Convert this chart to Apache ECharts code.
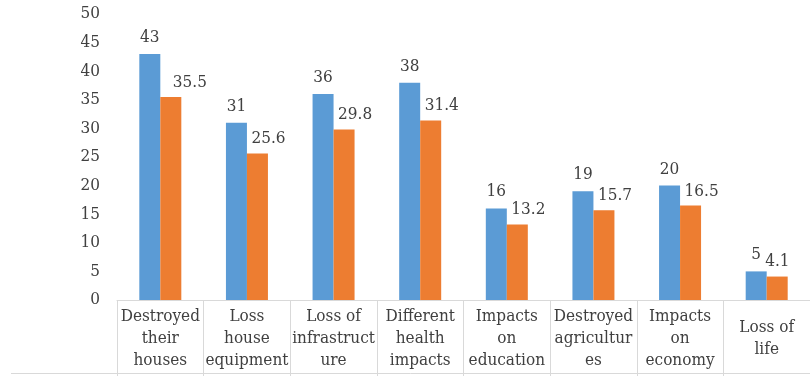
<!DOCTYPE html>
<html>
<head>
<meta charset="utf-8">
<script src="https://cdn.jsdelivr.net/npm/echarts@6/dist/echarts.min.js"></script>
<style>
  html, body { margin: 0; padding: 0; background: #fff; }
  #chart { width: 810px; height: 376px; }
</style>
</head>
<body>
<div id="chart"></div>
<script>
// Impact categories (line breaks as they wrap in each column)
const categories = [
  'Destroyed\ntheir\nhouses',
  'Loss\nhouse\nequipment',
  'Loss of\ninfrastruct\nure',
  'Different\nhealth\nimpacts',
  'Impacts\non\neducation',
  'Destroyed\nagricultur\nes',
  'Impacts\non\neconomy',
  'Loss of\nlife'
];
// Counts and percentages per category
const countValues = [43, 31, 36, 38, 16, 19, 20, 5];
const percentValues = [35.5, 25.6, 29.8, 31.4, 13.2, 15.7, 16.5, 4.1];
const yTicks = { min: 0, max: 50, interval: 5 };

const FONT = '"DejaVu Serif Condensed", "DejaVu Serif", serif';
const FS = 17;
const TEXT = '#404040';
const RULE = '#d9d9d9';

// small horizontal nudges for percentage labels that sit beside the count labels
const percentLabelNudge = { 0: 2, 7: -12 };

const percentData = percentValues.map((v, i) => {
  const item = { value: v };
  if (percentLabelNudge[i] !== undefined) {
    item.label = { offset: [percentLabelNudge[i], 0] };
  }
  return item;
});

const chart = echarts.init(document.getElementById('chart'), null, { renderer: 'canvas' });
chart.setOption({
  animation: false,
  backgroundColor: '#fff',
  textStyle: { fontFamily: FONT },
  grid: { left: 117, top: 14, width: 698, bottom: 76, containLabel: false },
  xAxis: {
    type: 'category',
    data: categories,
    boundaryGap: true,
    axisLine: { show: true, lineStyle: { color: RULE, width: 1 } },
    axisTick: { show: true, length: 76, lineStyle: { color: RULE, width: 1 } },
    axisLabel: {
      interval: 0,
      margin: 39,
      verticalAlign: 'middle',
      fontFamily: FONT,
      fontSize: FS,
      lineHeight: 22,
      color: TEXT
    },
    splitLine: { show: false }
  },
  yAxis: {
    type: 'value',
    min: yTicks.min,
    max: yTicks.max,
    interval: yTicks.interval,
    axisLine: { show: false },
    axisTick: { show: false },
    splitLine: { show: false },
    axisLabel: { margin: 17, fontFamily: FONT, fontSize: FS, color: TEXT }
  },
  series: [
    {
      type: 'bar',
      data: countValues,
      barWidth: 21,
      barGap: '0%',
      itemStyle: { color: '#5B9BD5' },
      label: {
        show: true,
        position: 'top',
        distance: 8,
        fontFamily: FONT,
        fontSize: FS,
        color: TEXT
      }
    },
    {
      type: 'bar',
      data: percentData,
      barWidth: 21,
      barGap: '0%',
      itemStyle: { color: '#ED7D31' },
      label: {
        show: true,
        position: 'top',
        distance: 6,
        align: 'left',
        offset: [-6, 0],
        fontFamily: FONT,
        fontSize: FS,
        color: TEXT
      }
    }
  ],
  graphic: [
    {
      type: 'line',
      shape: { x1: 11, y1: 373.5, x2: 810, y2: 373.5 },
      style: { stroke: RULE, lineWidth: 1 },
      silent: true
    }
  ]
});
</script>
</body>
</html>
